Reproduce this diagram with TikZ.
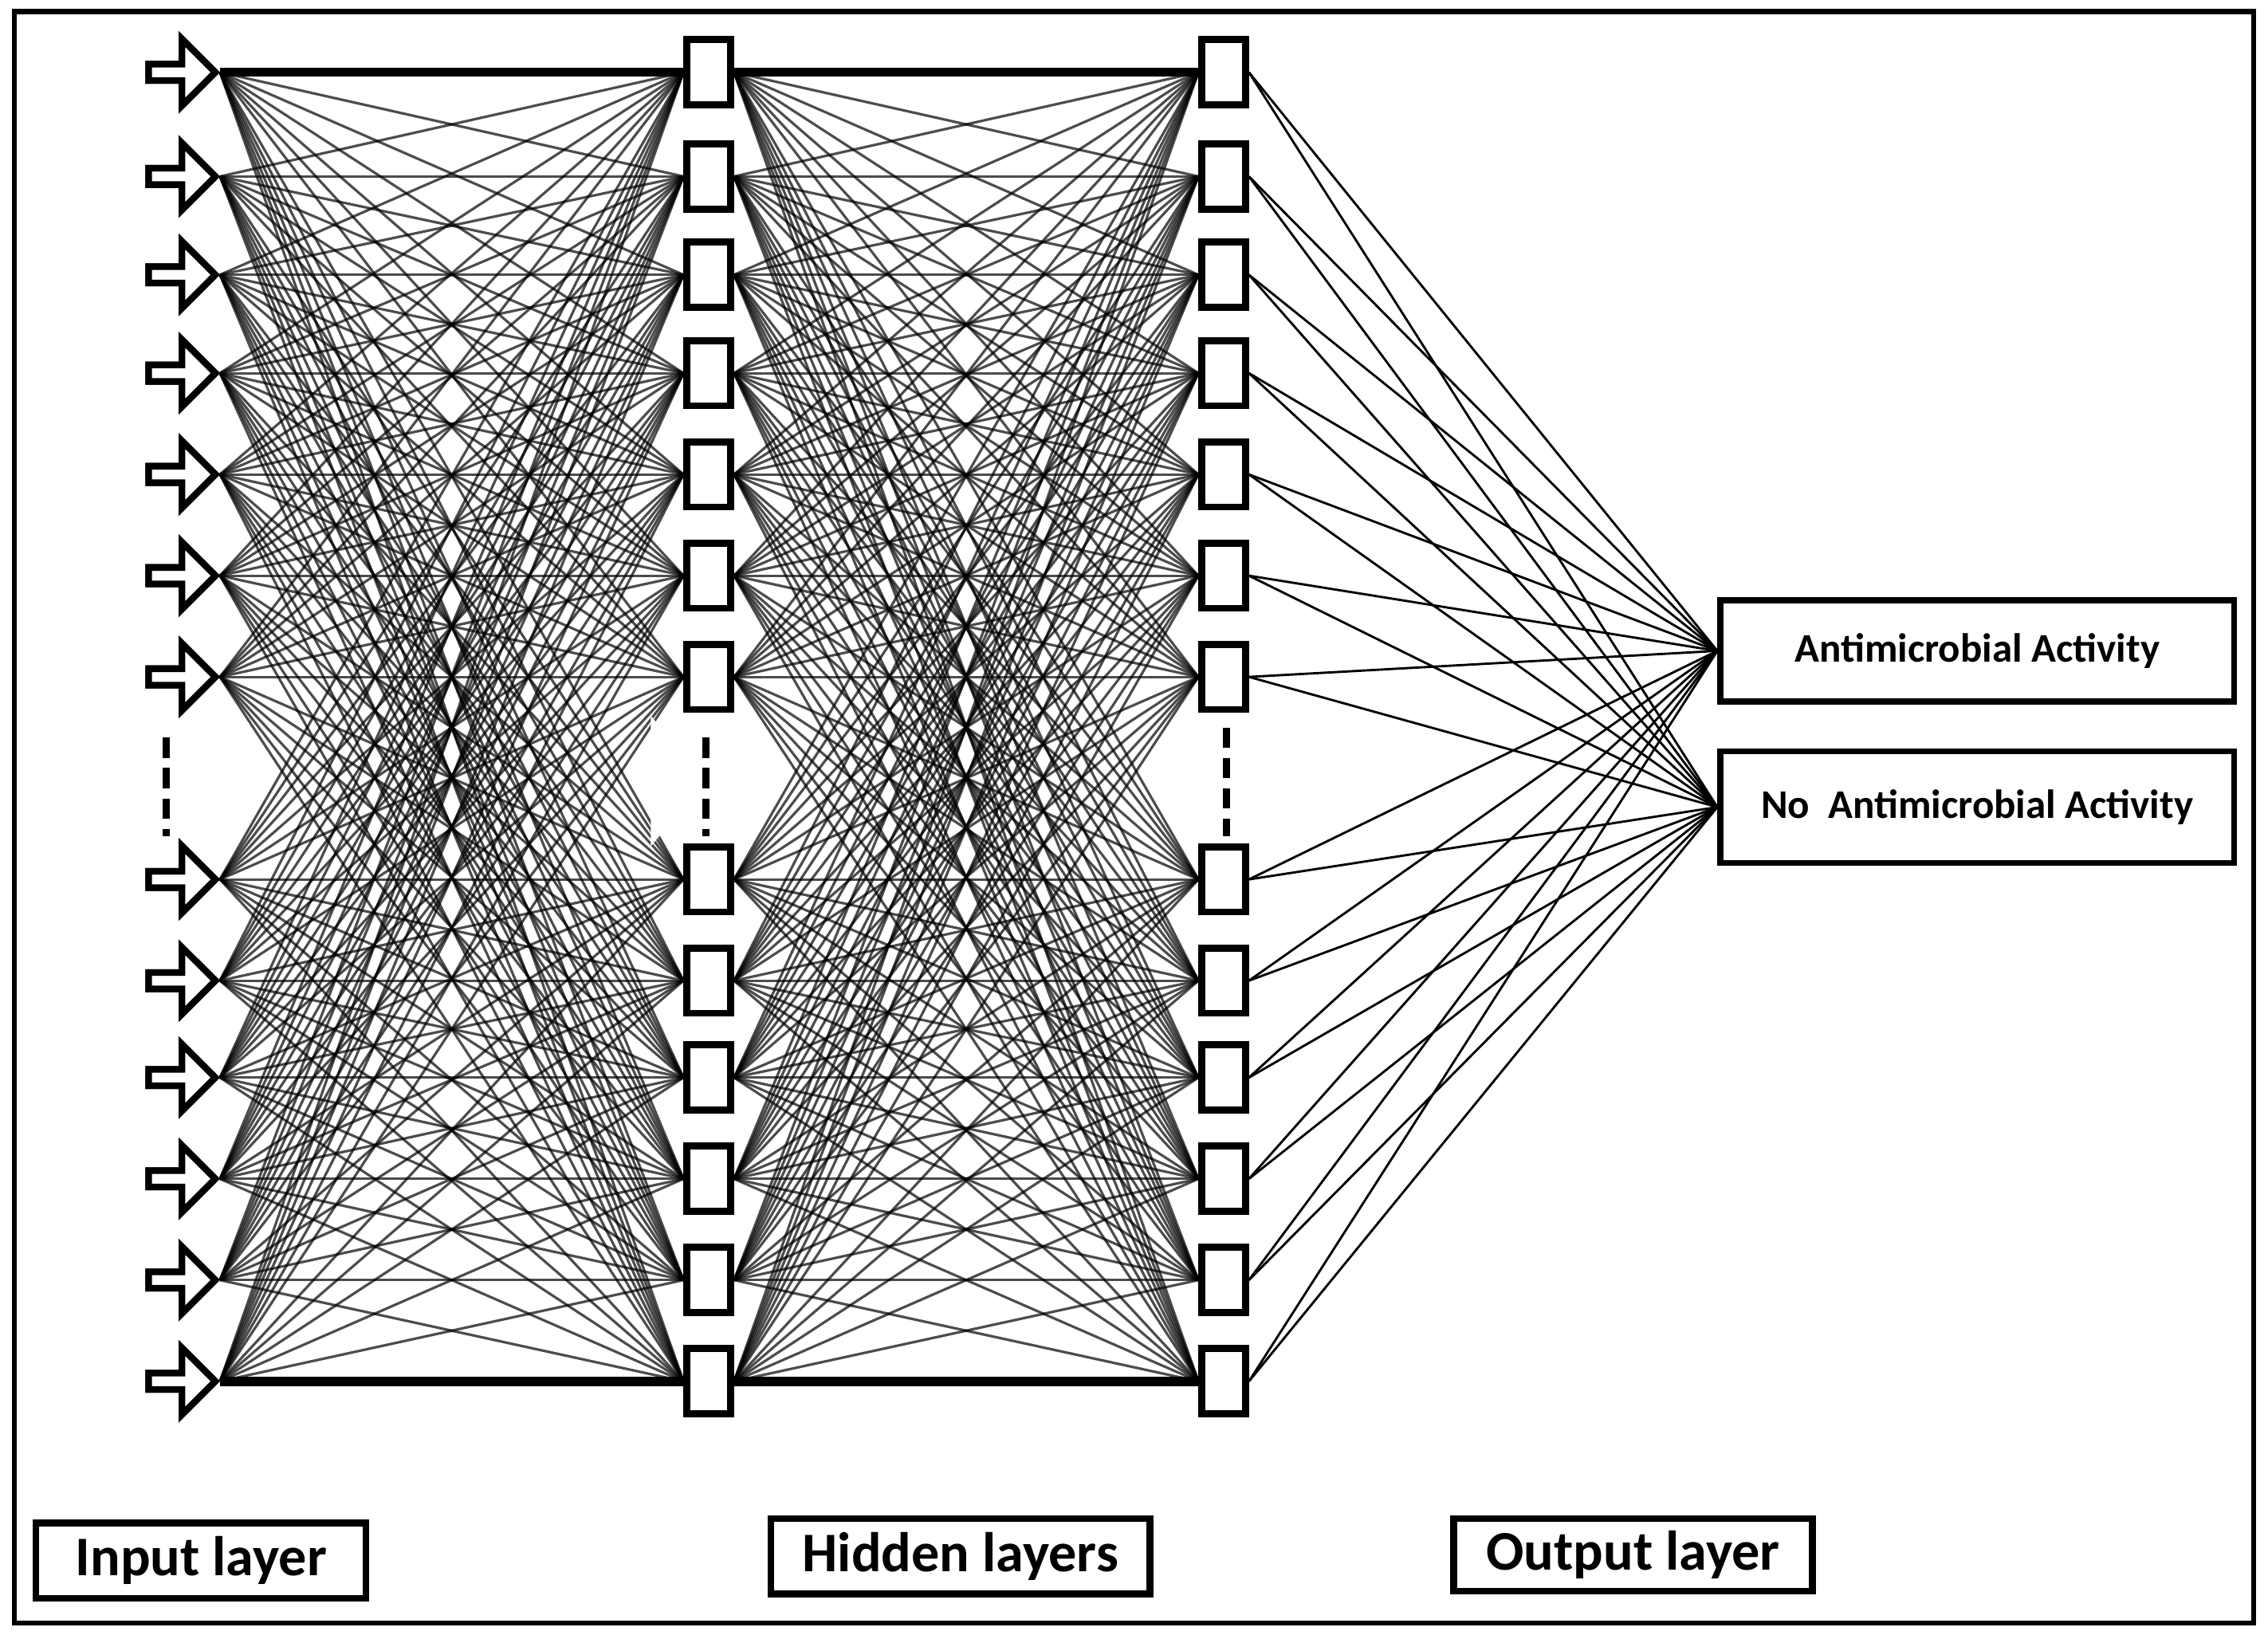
\documentclass[tikz,border=0pt]{standalone}
\usepackage{fontspec}
\setmainfont{Carlito}
\usetikzlibrary{shapes.arrows}
\begin{document}
\begin{tikzpicture}[x=0.01cm,y=-0.01cm,
  inarr/.style={single arrow,draw=black,fill=white,line width=1.3pt,minimum height=0.46cm,minimum width=0.46cm,single arrow head extend=0.07cm,inner sep=0pt},
  unit/.style={rectangle,draw=black,fill=white,line width=1.4pt,minimum width=0.3cm,minimum height=0.45cm,inner sep=0pt},
  conn/.style={black,opacity=0.7,line width=0.5pt},
  outc/.style={black,line width=0.45pt},
  obox/.style={rectangle,draw=black,line width=1.2pt,fill=white,minimum width=3.55cm,inner sep=0pt,font=\bfseries\fontsize{8}{10}\selectfont},
  lbox/.style={rectangle,draw=black,line width=1.3pt,fill=white,inner sep=0pt,font=\bfseries\fontsize{11}{13}\selectfont},
  dashv/.style={line width=1.5pt,dash pattern=on 0.14cm off 0.07cm}]
\useasboundingbox (0,0) rectangle (1568,1130);
\draw[line width=1pt] (10,8) rectangle (1558,1122);
\def\ys{50,122,190,258,328,398,468,608,678,745,815,885,955}
\foreach \y [count=\i] in \ys {
  \node[inarr] (in\i) at (123,\y) {};
  \node[unit] (ha\i) at (490,\y) {};
  \node[unit] (hb\i) at (846,\y) {};
}
\node[obox,minimum height=0.7cm] (o1) at (1367,450) {Antimicrobial Activity};
\node[obox,minimum height=0.77cm] (o2) at (1367,558) {No\ \ Antimicrobial Activity};
\foreach \i in {1,...,13}{\foreach \j in {1,...,13}{
  \draw[conn] (in\i.east) -- (ha\j.west);
  \draw[conn] (ha\i.east) -- (hb\j.west);
}}
\foreach \i in {1,...,13}{
  \draw[outc] (hb\i.east) -- (o1.west);
  \draw[outc] (hb\i.east) -- (o2.west);
}
\draw[line width=1.8pt] (in1.east) -- (ha1.west) (ha1.east) -- (hb1.west);
\draw[line width=1.8pt] (in13.east) -- (ha13.west) (ha13.east) -- (hb13.west);
\foreach \i in {1,...,13}{
  \node[inarr] at (in\i) {};
  \node[unit] at (ha\i) {};
  \node[unit] at (hb\i) {};
}
\coordinate (d1a) at (115,510); \coordinate (d1b) at (115,578);
\coordinate (d2a) at (488,510); \coordinate (d2b) at (488,578);
\coordinate (d3a) at (848,503); \coordinate (d3b) at (848,578);
\fill[white] (450,495) -- (488,540) -- (520,495) -- (520,585) -- (488,540) -- (450,585) -- cycle;
\draw[dashv] (d1a) -- (d1b);
\draw[dashv] (d2a) -- (d2b);
\draw[dashv] (d3a) -- (d3b);
\node[lbox,minimum width=2.28cm,minimum height=0.52cm] (l1) at (139,1079) {Input layer};
\node[lbox,minimum width=2.62cm,minimum height=0.52cm] (l2) at (664,1076) {Hidden layers};
\node[lbox,minimum width=2.48cm,minimum height=0.5cm] (l3) at (1129,1075) {Output layer};
\end{tikzpicture}
\end{document}
